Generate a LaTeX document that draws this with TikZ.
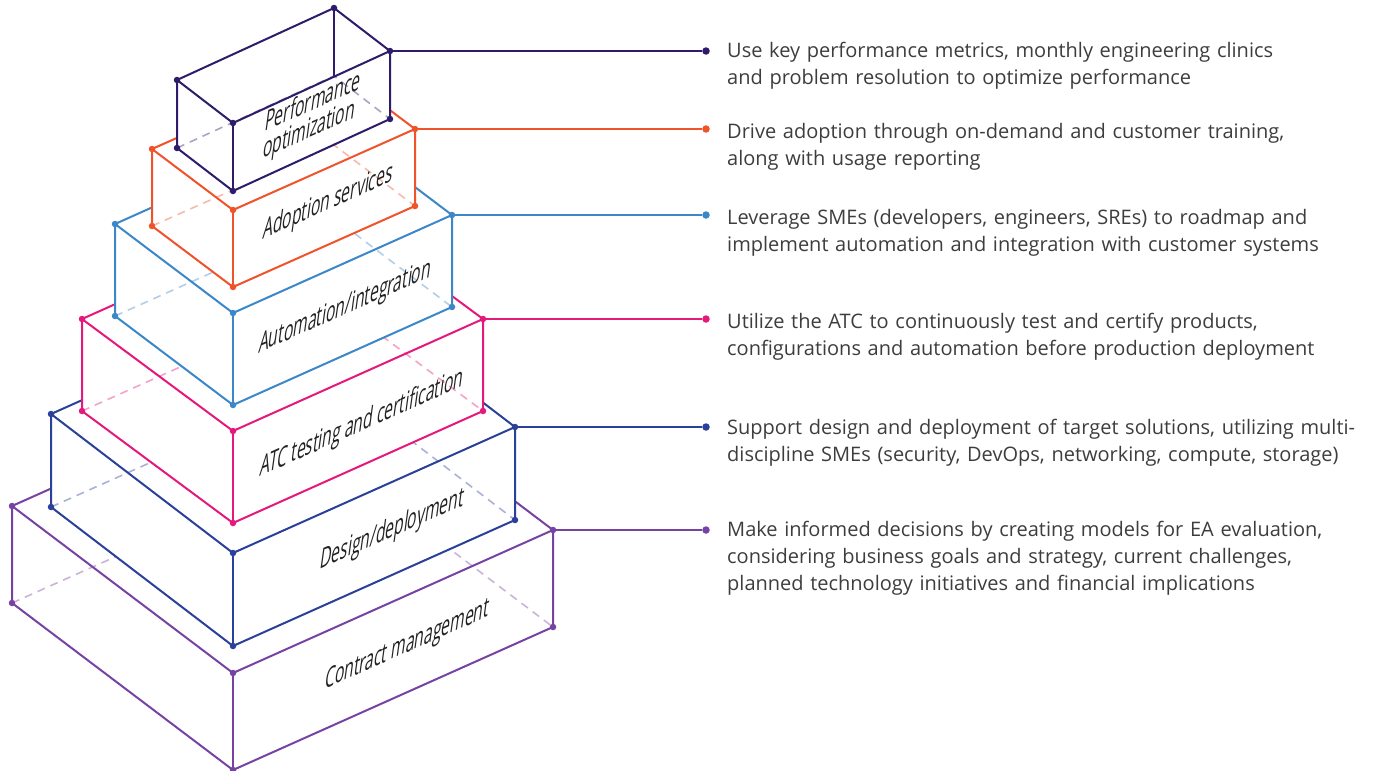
\documentclass[tikz,border=0pt]{standalone}
\usepackage{fontspec}
\setmainfont{Open Sans}
\newfontfamily\tagfont[FakeStretch=0.7]{Open Sans}
\usetikzlibrary{calc}

\definecolor{cPerf}{HTML}{2E1C6B}
\definecolor{cAdopt}{HTML}{F0532A}
\definecolor{cAuto}{HTML}{3B87C8}
\definecolor{cAtc}{HTML}{E4197B}
\definecolor{cDesign}{HTML}{2B4099}
\definecolor{cContract}{HTML}{7743A3}
\definecolor{txt}{HTML}{3D3D3D}
\definecolor{lbl}{HTML}{222222}

\tikzset{
  edge/.style={line width=2pt, line join=round, line cap=round},
  hidden/.style={line width=1.6pt, dash pattern=on 8pt off 6pt},
  link/.style={line width=2pt},
  vdot/.style={circle, inner sep=0pt, minimum size=6.5pt},
  enddot/.style={circle, inner sep=0pt, minimum size=7.5pt},
  desc/.style={anchor=base west, inner sep=0pt, text width=660pt, align=left,
    text=txt, font=\fontsize{20}{27}\selectfont},
  tag/.style={font=\tagfont\fontsize{24.5}{24}\selectfont, rotate=24, xslant=0.62,
    align=center, text=lbl, inner sep=0pt},
}

% #1 name prefix, #2 colour, #3 left top corner, #4 front top corner,
% #5 right top corner, #6 height
\newcommand{\stackbox}[6]{%
  \coordinate (#1L) at (#3);
  \coordinate (#1F) at (#4);
  \coordinate (#1R) at (#5);
  \coordinate (#1B) at ($(#1L)+(#1R)-(#1F)$);
  \coordinate (#1l) at ($(#1L)+(0,#6)$);
  \coordinate (#1f) at ($(#1F)+(0,#6)$);
  \coordinate (#1r) at ($(#1R)+(0,#6)$);
  \coordinate (#1b) at ($(#1B)+(0,#6)$);
  \fill[white] (#1L) -- (#1B) -- (#1R) -- (#1r) -- (#1f) -- (#1l) -- cycle;
  \draw[hidden, #2!40] (#1l) -- (#1b) -- (#1r);
  \draw[edge, #2] (#1L) -- (#1F) -- (#1R) -- (#1B) -- cycle;
  \draw[edge, #2] (#1B) -- (#1b);
  \draw[edge, #2] (#1L) -- (#1l) -- (#1f) -- (#1r) -- (#1R);
  \draw[edge, #2] (#1F) -- (#1f);
  \foreach \v in {L,F,R,B,l,f,r} {\node[vdot, fill=#2] (#1dot\v) at (#1\v) {};}
}

\begin{document}
\begin{tikzpicture}[x=1pt, y=-1pt]
\useasboundingbox (0,0) rectangle (1374,771);

% the stacked layers, bottom first
\stackbox{k}{cContract}{12,506}{233,673}{553,530}{97}
\stackbox{d}{cDesign}{51,414}{233,553}{515,427}{93}
\stackbox{t}{cAtc}{82,319}{233,431}{483,319}{92}
\stackbox{a}{cAuto}{115,224}{233,313}{452,215}{92}
\stackbox{s}{cAdopt}{152,149}{233,210}{415,129}{77}
\stackbox{p}{cPerf}{177,80}{233,123}{390,51}{68}

% layer names on the front faces
\node[tag] (pTag) at (311,117) {Performance\\optimization};
\node[tag] (sTag) at (328,203) {Adoption services};
\node[tag] (aTag) at (345,308) {Automation/integration};
\node[tag] (tTag) at (362,424) {ATC testing and certification};
\node[tag] (dTag) at (392,530) {Design/deployment};
\node[tag] (kTag) at (407,646) {Contract management};

% leader lines
\coordinate (xe) at (706,0);
\foreach \n/\c in {p/cPerf, s/cAdopt, a/cAuto, t/cAtc, d/cDesign, k/cContract} {
  \node[enddot, fill=\c] (\n End) at (\n R -| xe) {};
  \draw[link, \c] (\n R) -- (\n End);
}

% descriptions
\node[desc] (pTxt) at (727,57) {Use key performance metrics, monthly engineering clinics\\and problem resolution to optimize performance};
\node[desc] (sTxt) at (727,138) {Drive adoption through on-demand and customer training,\\along with usage reporting};
\node[desc] (aTxt) at (727,224) {Leverage SMEs (developers, engineers, SREs) to roadmap and\\implement automation and integration with customer systems};
\node[desc] (tTxt) at (727,328) {Utilize the ATC to continuously test and certify products,\\configurations and automation before production deployment};
\node[desc] (dTxt) at (727,434) {Support design and deployment of target solutions, utilizing multi-\\discipline SMEs (security, DevOps, networking, compute, storage)};
\node[desc] (kTxt) at (727,536) {Make informed decisions by creating models for EA evaluation,\\considering business goals and strategy, current challenges,\\planned technology initiatives and financial implications};
\end{tikzpicture}
\end{document}
